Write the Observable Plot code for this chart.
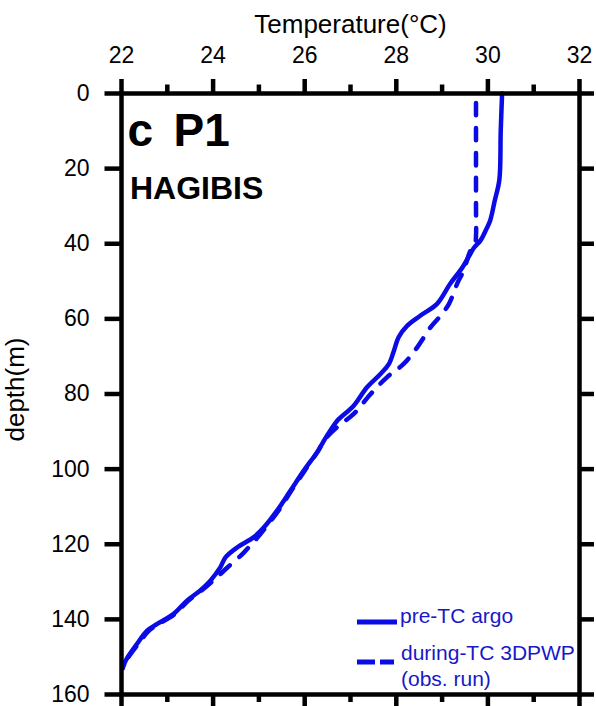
<!DOCTYPE html>
<html>
<head>
<meta charset="utf-8">
<script src="https://cdn.jsdelivr.net/npm/d3@7"></script>
<script src="https://cdn.jsdelivr.net/npm/@observablehq/plot@0.6"></script>
<style>
  html, body { margin: 0; padding: 0; background: #fff; }
  #chart { position: relative; width: 596px; height: 706px; }
</style>
</head>
<body>
<div id="chart"></div>
<script>
// ---- data ----
const preDepth = [0, 10, 23, 28.5, 33.8, 36, 39.1, 41, 42.6, 46.2, 50.6, 56, 59.1, 61.8, 64.9, 68.4, 72, 74.6, 78.2, 83.1, 87.1, 89.7, 92.4, 95, 100.4, 105.7, 111, 115.5, 118.1, 120.8, 123.5, 126.1, 129.7, 132.3, 135, 138.5, 141.2, 143, 146.5, 151, 152.3];
const preTemp  = [30.31, 30.28, 30.25, 30.15, 30.05, 29.97, 29.84, 29.7, 29.62, 29.45, 29.18, 28.89, 28.53, 28.24, 28.05, 27.95, 27.84, 27.66, 27.36, 27.07, 26.71, 26.56, 26.42, 26.3, 25.98, 25.69, 25.4, 25.11, 24.89, 24.53, 24.27, 24.16, 23.94, 23.72, 23.43, 23.14, 22.78, 22.56, 22.34, 22.09, 22.05];

const durDepth = [2.5, 10, 20, 30, 38, 40, 41.8, 47.1, 50.6, 56, 59.1, 62.2, 67.5, 72, 75.5, 80, 85.3, 88.8, 92.4, 95, 100.4, 105.7, 111, 115.5, 118.5, 120.5, 122.5, 126, 129.7, 132.3, 135, 138.5, 141.2, 143, 146.5, 151, 153];
const durTemp  = [29.74, 29.74, 29.74, 29.74, 29.74, 29.72, 29.62, 29.47, 29.33, 29.15, 28.97, 28.75, 28.46, 28.16, 27.8, 27.44, 27.07, 26.71, 26.42, 26.3, 26.0, 25.71, 25.43, 25.15, 24.95, 24.8, 24.65, 24.33, 24.0, 23.75, 23.46, 23.17, 22.82, 22.6, 22.37, 22.1, 22.03];

const xMajorTicks = [22, 24, 26, 28, 30, 32];
const xMinorTicks = [23, 25, 27, 29, 31];
const yTicks = [0, 20, 40, 60, 80, 100, 120, 140, 160];

const seriesNames = ["pre-TC argo", "during-TC 3DPWP", "(obs. run)"];
const panelLetter = "c";
const pointLabel = "P1";
const stormName = "HAGIBIS";
const xTitle = "Temperature(°C)";
const yTitle = "depth(m)";

// ---- tables built from the arrays ----
const pre = preDepth.map((d, i) => ({depth: d, temp: preTemp[i]}));
const dur = durDepth.map((d, i) => ({depth: d, temp: durTemp[i]}));

const FONT = "'Liberation Sans', Arial, Helvetica, sans-serif";
const BLUE = "#0b0be6";
const TEXTBLUE = "#1818c8";
const AX = 4.5;

const plot = Plot.plot({
  width: 596,
  height: 706,
  marginTop: 93,
  marginBottom: 12,
  marginLeft: 121,
  marginRight: 17,
  style: {fontFamily: FONT, background: "#fff", color: "#000", overflow: "visible"},
  x: {domain: [22, 32]},
  y: {domain: [0, 160], reverse: true},
  marks: [
    Plot.line(pre, {x: "temp", y: "depth", stroke: BLUE, strokeWidth: 4.5, curve: "catmull-rom", strokeLinecap: "round"}),
    Plot.line(dur, {x: "temp", y: "depth", stroke: BLUE, strokeWidth: 4.5, curve: "catmull-rom",
                    strokeDasharray: "12.5,12.5", strokeLinecap: "round"}),
    Plot.axisX(xMajorTicks, {anchor: "top", tickSize: 15, tickPadding: 15.5, strokeWidth: AX, fontSize: 23, label: null}),
    Plot.axisX(xMinorTicks, {anchor: "top", tickSize: 9.5, strokeWidth: AX, fill: "none", label: null}),
    Plot.axisX(xMajorTicks, {anchor: "bottom", tickSize: 13, strokeWidth: AX, fill: "none", label: null}),
    Plot.axisX(xMinorTicks, {anchor: "bottom", tickSize: 8, strokeWidth: AX, fill: "none", label: null}),
    Plot.axisY(yTicks, {anchor: "left", tickSize: 16.5, tickPadding: 15.5, strokeWidth: AX, fontSize: 23, label: null}),
    Plot.axisY(yTicks, {anchor: "right", tickSize: 14, strokeWidth: AX, fill: "none", label: null}),
    Plot.frame({strokeWidth: AX, stroke: "#000"}),
    Plot.text([xTitle], {text: d => d, frameAnchor: "top", dy: -60.7, lineAnchor: "bottom", fontSize: 26, fill: "#000"}),
    Plot.text([yTitle], {text: d => d, frameAnchor: "left", dx: -97.5, dy: -4.5, rotate: -90, lineAnchor: "bottom",
                         textAnchor: "middle", fontSize: 26, fill: "#000"}),
    Plot.text([panelLetter], {text: d => d, frameAnchor: "top-left", dx: 6, dy: 52, lineAnchor: "bottom",
                              textAnchor: "start", fontSize: 46, fontWeight: "bold", fill: "#000"}),
    Plot.text([pointLabel], {text: d => d, frameAnchor: "top-left", dx: 52, dy: 52, lineAnchor: "bottom",
                             textAnchor: "start", fontSize: 46, fontWeight: "bold", fill: "#000"}),
    Plot.text([stormName], {text: d => d, frameAnchor: "top-left", dx: 8.5, dy: 105.3, lineAnchor: "bottom",
                            textAnchor: "start", fontSize: 32, fontWeight: "bold", fill: "#000"})
  ]
});

// ---- legend (inside the frame, lower right) ----
const svg = d3.select(plot);
const lg = svg.append("g").attr("font-family", FONT).attr("text-anchor", "start");
lg.append("line").attr("x1", 357).attr("x2", 397).attr("y1", 622).attr("y2", 622)
  .attr("stroke", BLUE).attr("stroke-width", 5);
lg.append("text").attr("x", 400).attr("y", 623).attr("font-size", 21).attr("fill", TEXTBLUE)
  .attr("text-anchor", "start").text(seriesNames[0]);
lg.append("line").attr("x1", 357).attr("x2", 394).attr("y1", 662).attr("y2", 662)
  .attr("stroke", BLUE).attr("stroke-width", 5).attr("stroke-dasharray", "18,5");
lg.append("text").attr("x", 401).attr("y", 659.5).attr("font-size", 21).attr("fill", TEXTBLUE)
  .attr("text-anchor", "start").text(seriesNames[1]);
lg.append("text").attr("x", 401).attr("y", 686).attr("font-size", 21).attr("fill", TEXTBLUE)
  .attr("text-anchor", "start").text(seriesNames[2]);

document.getElementById("chart").appendChild(plot);
</script>
</body>
</html>
